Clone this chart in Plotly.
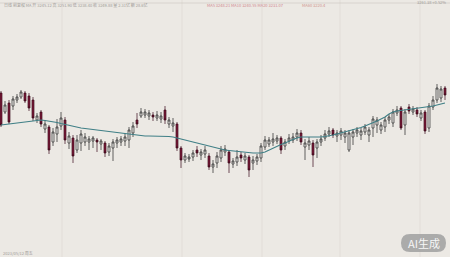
import plotly.graph_objects as go

# ---- data (price units) ----
idx = list(range(112))
open_ = [164,145,154,151,157,160,164,161,157,137,145,128,130,115,123,131,137,114,119,107,
         114,115,115,116,117,113,114,105,109,114,115,116,117,124,137,141,142,141,142,139,
         138,147,133,131,133,109,97,98,100,107,102,103,101,90,94,99,105,105,93,95,
         102,97,100,94,96,99,110,113,115,116,119,111,116,117,120,124,110,112,114,109,
         115,119,123,127,121,122,120,107,120,124,122,125,122,129,132,127,130,137,134,144,
         149,132,150,145,147,139,145,129,150,157,159,169]
high_ = [166,156,157,161,163,167,166,164,160,144,147,137,132,129,138,145,140,125,122,122,
         127,124,121,121,119,118,116,114,118,120,121,124,130,135,144,149,148,147,145,146,
         145,151,140,139,135,111,104,103,107,111,108,111,104,97,105,111,112,107,99,107,
         105,104,102,101,103,114,121,120,124,122,121,118,123,124,128,127,118,120,117,118,
         122,127,130,129,127,129,127,127,128,130,129,133,130,141,140,135,140,143,148,151,
         151,148,153,151,150,147,147,154,161,173,171,171]
low_ = [130,143,133,147,154,158,154,146,136,134,130,124,103,111,115,127,113,108,94,104,
        106,111,107,109,105,107,100,101,96,109,111,111,109,120,129,139,139,137,136,136,
        134,133,129,125,106,89,94,95,96,100,97,99,87,84,89,95,101,84,89,91,
        95,93,80,87,92,95,107,110,111,113,103,107,113,114,116,112,97,107,90,99,
        111,116,120,119,115,117,114,105,112,120,117,122,115,120,124,123,125,133,130,141,
        127,122,143,142,140,136,123,125,147,154,155,157]
close_ = [132,152,135,158,160,165,156,149,139,141,133,133,107,125,130,139,117,121,101,117,
          123,120,118,119,115,116,104,111,115,117,118,120,127,131,133,145,145,144,140,142,
          141,137,137,134,109,97,101,100,104,104,105,107,90,93,101,107,108,94,96,100,
          99,101,87,97,100,111,117,117,118,119,107,115,119,120,124,115,114,116,102,115,
          118,123,126,122,124,126,124,124,125,127,126,130,127,138,137,132,137,140,145,147,
          129,145,146,148,143,144,126,151,157,169,168,162]
ma_line = [132,132.5,133,133.5,134,134.5,135,136,136.5,137,
           137,136.5,136,135.5,134.5,133.5,132.5,131.5,130.5,130,
           129,128.5,128,127.5,126.5,126,125.5,125,124.5,124,
           123.5,123,122.5,122,121.5,121,121,121,121,121,
           121,121,120.5,120,119,118,116.5,115.5,114.5,113.5,
           112.5,111.5,110.5,109.5,108.5,108,107,106.5,106,105.5,
           105,104.5,104,104,104,104,105,107,109,111,
           112.5,114,116,117.5,119,120,120,120,119.5,119.5,
           120,120.5,121,122,123,124,125,126,127,128,
           129.5,131,132.5,134,136,138,140,143,145,146,
           146.5,147,147.5,148,148.5,149,149.5,150,151,152,153,154]

BG = "#ece9e4"
UP_FILL = "#f5f3ef"
DOWN_FILL = "#7e1838"
EDGE = "#262626"
MA_COLOR = "#3f7f86"

fig = go.Figure()

fig.add_trace(go.Candlestick(
    x=idx, open=open_, high=high_, low=low_, close=close_,
    increasing=dict(fillcolor=UP_FILL, line=dict(color=EDGE, width=0.7)),
    decreasing=dict(fillcolor=DOWN_FILL, line=dict(color="#3a0a1a", width=0.7)),
    whiskerwidth=0, showlegend=False, hoverinfo="skip",
))

fig.add_trace(go.Scatter(
    x=idx, y=ma_line, mode="lines",
    line=dict(color=MA_COLOR, width=1.1), showlegend=False, hoverinfo="skip",
))

# faint vertical grid lines
for px in [62, 182, 262, 340, 420]:
    fig.add_shape(type="line", xref="paper", yref="paper", x0=px / 450, x1=px / 450,
                  y0=0, y1=1, line=dict(color="rgba(205,201,195,0.35)", width=1), layer="below")

# thin top border line
fig.add_shape(type="line", xref="paper", yref="paper", x0=0, x1=1, y0=1 - 3 / 257, y1=1 - 3 / 257,
              line=dict(color="rgba(195,191,185,0.5)", width=1))

hdr = dict(size=4, family="Noto Sans CJK SC")
fig.add_annotation(xref="paper", yref="paper", x=2 / 450, y=1 - 5 / 257, xanchor="left", yanchor="middle",
                   text="日线 前复权 MA 开 3245.12 高 3251.90 低 3238.40 收 3249.88 量 2.31亿 额 28.6亿",
                   showarrow=False, font=dict(color="#a09c98", **hdr))
fig.add_annotation(xref="paper", yref="paper", x=205 / 450, y=1 - 5 / 257, xanchor="left", yanchor="middle",
                   text="MA5 3248.21 MA10 3240.55 MA20 3231.07",
                   showarrow=False, font=dict(color="#d08890", **hdr))
fig.add_annotation(xref="paper", yref="paper", x=300 / 450, y=1 - 5 / 257, xanchor="left", yanchor="middle",
                   text="MA60 3220.4",
                   showarrow=False, font=dict(color="#d0948c", **hdr))
fig.add_annotation(xref="paper", yref="paper", x=448 / 450, y=1 - 2 / 257, xanchor="right", yanchor="middle",
                   text="3261.38 +0.52%",
                   showarrow=False, font=dict(color="#a09c98", **hdr))
fig.add_annotation(xref="paper", yref="paper", x=1 / 450, y=4 / 257, xanchor="left", yanchor="middle",
                   text="2023/05/12 周五",
                   showarrow=False, font=dict(color="#a09c98", **hdr))

# "AI生成" badge (rounded)
L, R, T, B = 401, 446, 234, 252
rx, ry = 9 / 450, 9 / 257
x0, x1 = L / 450, R / 450
y0, y1 = 1 - B / 257, 1 - T / 257
path = (f"M {x0+rx},{y0} L {x1-rx},{y0} Q {x1},{y0} {x1},{y0+ry} L {x1},{y1-ry} "
        f"Q {x1},{y1} {x1-rx},{y1} L {x0+rx},{y1} Q {x0},{y1} {x0},{y1-ry} "
        f"L {x0},{y0+ry} Q {x0},{y0} {x0+rx},{y0} Z")
fig.add_shape(type="path", xref="paper", yref="paper", path=path,
              fillcolor="rgba(160,160,160,0.85)", line=dict(width=0))
fig.add_annotation(xref="paper", yref="paper", x=(x0 + x1) / 2, y=(y0 + y1) / 2,
                   xanchor="center", yanchor="middle",
                   text="AI生成", showarrow=False,
                   font=dict(size=11, color="#f6f6f6", family="Noto Sans CJK SC"))

fig.update_layout(
    width=450, height=257,
    margin=dict(l=0, r=0, t=0, b=0),
    paper_bgcolor=BG, plot_bgcolor=BG,
    xaxis=dict(range=[-0.25, 112.25], visible=False, rangeslider=dict(visible=False), fixedrange=True),
    yaxis=dict(range=[0, 257], visible=False, fixedrange=True),
    showlegend=False,
)

fig.write_html("out.html")
